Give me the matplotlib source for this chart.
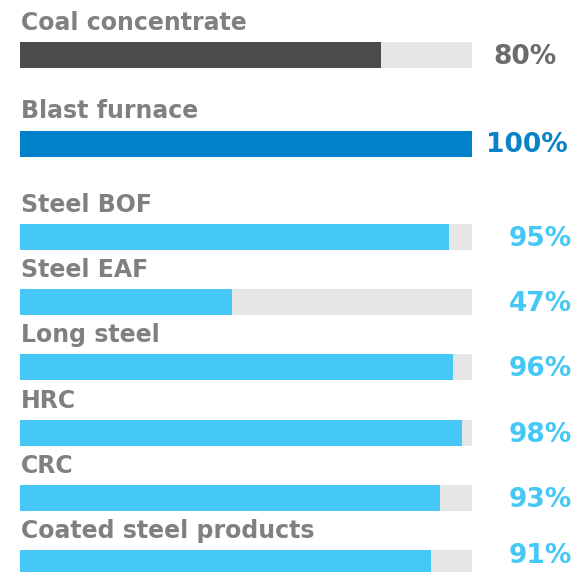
import numpy as np
import matplotlib.pyplot as plt
from matplotlib.transforms import blended_transform_factory

# -----------------------------
# Data
# -----------------------------
labels = ["Coal concentrate", "Blast furnace", "Steel BOF", "Steel EAF",
          "Long steel", "HRC", "CRC", "Coated steel products"]
values = [80, 100, 95, 47, 96, 98, 93, 91]

# -----------------------------
# Styling
# -----------------------------
W, H = 573, 572
bar_colors = ["#4b4b4b", "#0081c9"] + ["#45c8f5"] * 6
pct_colors = ["#6b6b6b", "#0a82c8"] + ["#45c8f5"] * 6
track_color = "#e6e6e6"
label_color = "#808080"
bar_h = 26

# row centres in pixels from the top (two header rows, then an even grid)
centers = np.array([54.5, 143.5] + [237 + 65.2 * i for i in range(6)])
pct_right = [557, 568] + [572] * 6

plt.rcParams["font.family"] = ["DejaVu Sans"]

fig = plt.figure(figsize=(W / 100, H / 100), dpi=100)
ax = fig.add_axes([19.5 / W, 0, 452 / W, 1])
ax.set_xlim(0, 100)
ax.set_ylim(H, 0)
ax.axis("off")

# grey track + value bar
ax.barh(centers, [100] * len(values), height=bar_h, color=track_color, left=0)
ax.barh(centers, values, height=bar_h, color=bar_colors, left=0)

trans = blended_transform_factory(fig.transFigure, ax.transData)
for i, (lab, v) in enumerate(zip(labels, values)):
    # category label sits just above its bar
    ax.text(21 / W, centers[i] - bar_h / 2 - 12, lab, transform=trans,
            ha="left", va="baseline", fontsize=17, fontweight="bold",
            color=label_color)
    # keep the last percentage inside the bottom edge
    ax.text(pct_right[i] / W, min(centers[i] + 2, 556), f"{v}%",
            transform=trans, ha="right", va="center", fontsize=19,
            fontweight="bold", color=pct_colors[i])

fig.savefig("out.png", dpi=100)
